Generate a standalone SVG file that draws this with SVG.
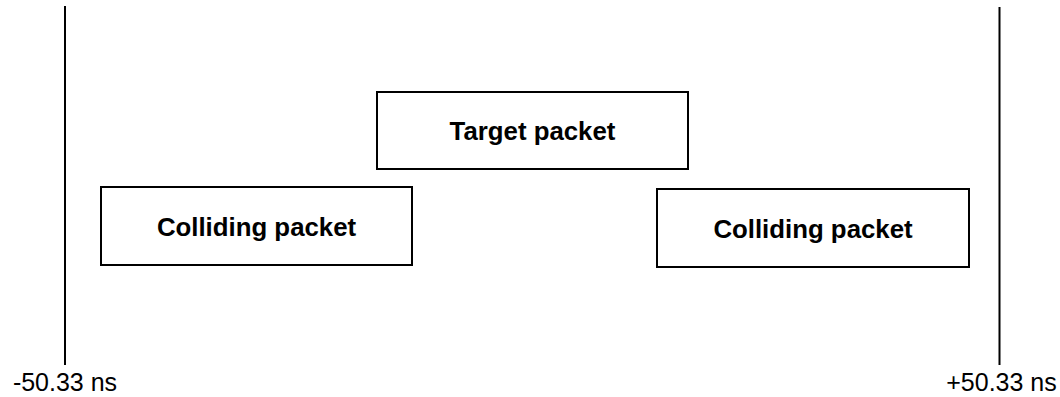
<svg xmlns="http://www.w3.org/2000/svg" width="1060" height="397" viewBox="0 0 1060 397">
<style>
.box{fill:#fff;stroke:#000;stroke-width:2}
.bt{font-family:"Liberation Sans",Arial,sans-serif;font-weight:bold;font-size:25.8px;text-anchor:middle;fill:#000}
.lab{font-family:"Liberation Sans",Arial,sans-serif;font-size:25px;text-anchor:middle;fill:#000}
.ln{stroke:#000;stroke-width:2;fill:none}
</style>
<rect width="1060" height="397" fill="#fff"/>
<g id="connectors">
<line class="ln" x1="65" y1="6" x2="65" y2="365"/>
<line class="ln" x1="999.5" y1="7" x2="999.5" y2="365"/>
</g>
<g id="target">
<rect class="box" x="377" y="92" width="311" height="77"/>
<text class="bt" x="532.5" y="140">Target packet</text>
</g>
<g id="colliding-left">
<rect class="box" x="101" y="187" width="311" height="78"/>
<text class="bt" x="256.5" y="235.5">Colliding packet</text>
</g>
<g id="colliding-right">
<rect class="box" x="657" y="189" width="312" height="78"/>
<text class="bt" x="813" y="237.5">Colliding packet</text>
</g>
<g id="label-left">
<text class="lab" x="65" y="391">-50.33 ns</text>
</g>
<g id="label-right">
<text class="lab" x="1001.5" y="391">+50.33 ns</text>
</g>
</svg>
